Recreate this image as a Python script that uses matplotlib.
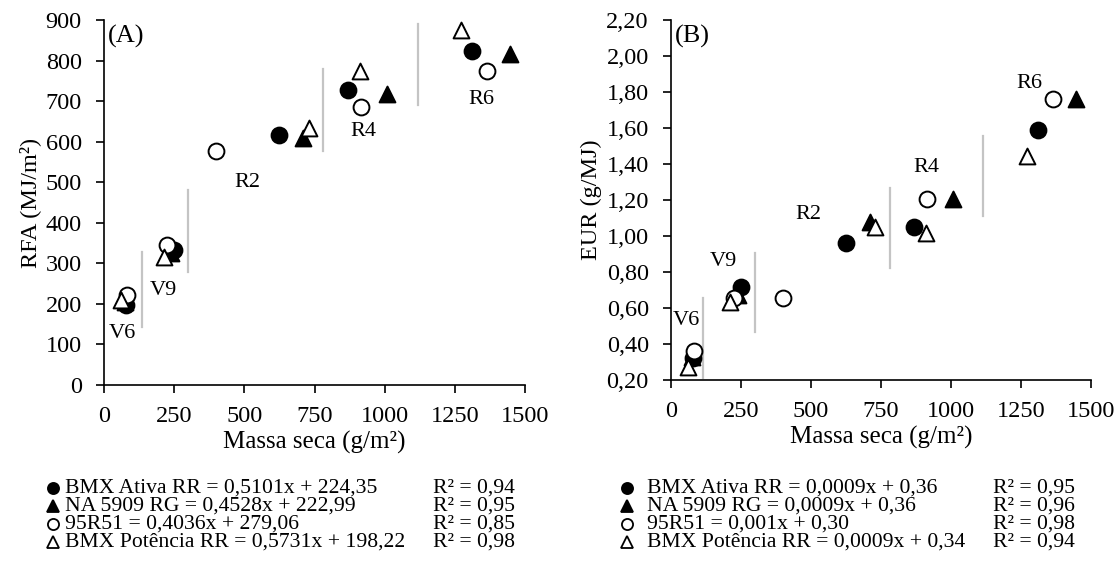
import matplotlib
matplotlib.use("Agg")
import matplotlib.pyplot as plt
from matplotlib.ticker import FuncFormatter

plt.rcParams["font.family"] = ["Liberation Serif", "DejaVu Serif"]
plt.rcParams["font.size"] = 17.5

# dry mass (g/m2) per cultivar at V6, V9, R2, R4, R6
massa_ativa = [78, 250, 625, 868, 1310]
massa_na5909 = [75, 240, 709, 1008, 1446]
massa_95r51 = [82, 224, 400, 914, 1364]
massa_potencia = [59, 212, 729, 912, 1272]

# (A) intercepted radiation RFA (MJ/m2)
rfa_ativa = [197, 333, 616, 727, 823]
rfa_na5909 = [205, 325, 609, 717, 816]
rfa_95r51 = [222, 345, 577, 685, 774]
rfa_potencia = [210, 316, 634, 774, 875]

# (B) radiation use efficiency EUR (g/MJ)
eur_ativa = [0.32, 0.717, 0.96, 1.05, 1.589]
eur_na5909 = [0.33, 0.67, 1.078, 1.206, 1.761]
eur_95r51 = [0.361, 0.655, 0.655, 1.206, 1.761]
eur_potencia = [0.272, 0.633, 1.05, 1.017, 1.444]

stages = ["V6", "V9", "R2", "R4", "R6"]
stage_pos_a = [(64, 128), (211, 232), (510, 500), (925, 624), (1346, 705)]
stage_pos_b = [(54, 0.528), (186, 0.861), (489, 1.117), (911, 1.383), (1279, 1.85)]

# gray stage dividers: x, ymin, ymax
div_a = [(136, 143, 328), (300, 279, 481), (782, 577, 779), (1117, 690, 890)]
div_b = [(114, 0.21, 0.655), (300, 0.467, 0.906), (782, 0.822, 1.267), (1114, 1.111, 1.556)]

legend_a = ["BMX Ativa RR = 0,5101x + 224,35", "NA 5909 RG = 0,4528x + 222,99",
            "95R51 = 0,4036x + 279,06", "BMX Potência RR = 0,5731x + 198,22"]
r2_a = ["R² = 0,94", "R² = 0,95", "R² = 0,85", "R² = 0,98"]
legend_b = ["BMX Ativa RR = 0,0009x + 0,36", "NA 5909 RG = 0,0009x + 0,36",
            "95R51 = 0,001x + 0,30", "BMX Potência RR = 0,0009x + 0,34"]
r2_b = ["R² = 0,95", "R² = 0,96", "R² = 0,98", "R² = 0,94"]

styles = [
    dict(marker="o", facecolor="black", edgecolor="black"),
    dict(marker="^", facecolor="black", edgecolor="black"),
    dict(marker="o", facecolor="white", edgecolor="black"),
    dict(marker="^", facecolor="white", edgecolor="black"),
]

fig = plt.figure(figsize=(11.2, 5.78), dpi=100)
ax_a = fig.add_axes([104 / 1120, 1 - 385 / 578, 421 / 1120, 365 / 578])
ax_b = fig.add_axes([671 / 1120, 1 - 380 / 578, 420 / 1120, 360 / 578])

masses = [massa_ativa, massa_na5909, massa_95r51, massa_potencia]


def draw_panel(ax, ys, stage_pos, dividers, tag):
    for xs, y, st in zip(masses, ys, styles):
        ax.scatter(xs, y, s=130, linewidths=1.4, zorder=3, clip_on=False, **st)
    for x, y0, y1 in dividers:
        ax.plot([x, x], [y0, y1], color="#c4c4c4", lw=1.6, zorder=1)
    for name, (x, y) in zip(stages, stage_pos):
        ax.text(x, y, name, ha="center", va="center", fontsize=16)
    ax.text(0.01, 0.955, tag, transform=ax.transAxes, ha="left", va="center", fontsize=19)
    for side in ("top", "right"):
        ax.spines[side].set_visible(False)
    ax.spines["left"].set_linewidth(1.2)
    ax.spines["bottom"].set_linewidth(1.2)
    ax.tick_params(direction="out", length=6, width=1.2)
    ax.tick_params(axis="y", pad=10)
    ax.tick_params(axis="x", pad=9)
    ax.set_xlim(0, 1500)
    ax.set_xticks([0, 250, 500, 750, 1000, 1250, 1500])
    ax.set_xlabel("Massa seca (g/m²)", fontsize=18, labelpad=3)


draw_panel(ax_a, [rfa_ativa, rfa_na5909, rfa_95r51, rfa_potencia], stage_pos_a, div_a, "(A)")
ax_a.set_ylim(0, 900)
ax_a.set_yticks(range(0, 901, 100))
ax_a.set_ylabel("RFA (MJ/m²)", labelpad=3)

draw_panel(ax_b, [eur_ativa, eur_na5909, eur_95r51, eur_potencia], stage_pos_b, div_b, "(B)")
ax_b.set_ylim(0.2, 2.2)
ax_b.set_yticks([0.2 + 0.2 * i for i in range(11)])
ax_b.yaxis.set_major_formatter(FuncFormatter(lambda v, p: f"{v:.2f}".replace(".", ",")))
ax_b.set_ylabel("EUR (g/MJ)", labelpad=3)

# equation legends below each panel
rows_y = [488, 506, 524, 542]
for labels, r2s, mx, tx, rx in [(legend_a, r2_a, 53, 65, 433), (legend_b, r2_b, 627, 647, 993)]:
    for lab, r2, st, ry in zip(labels, r2s, styles, rows_y):
        yf = 1 - ry / 578
        fig.lines.append(plt.Line2D([mx / 1120], [yf], transform=fig.transFigure,
                                    marker=st["marker"], markersize=8,
                                    markerfacecolor=st["facecolor"],
                                    markeredgecolor="black", markeredgewidth=1.3,
                                    linestyle="none"))
        fig.text(tx / 1120, yf, lab, ha="left", va="center", fontsize=15.6)
        fig.text(rx / 1120, yf, r2, ha="left", va="center", fontsize=15.6)

fig.savefig("out.png", dpi=100)
